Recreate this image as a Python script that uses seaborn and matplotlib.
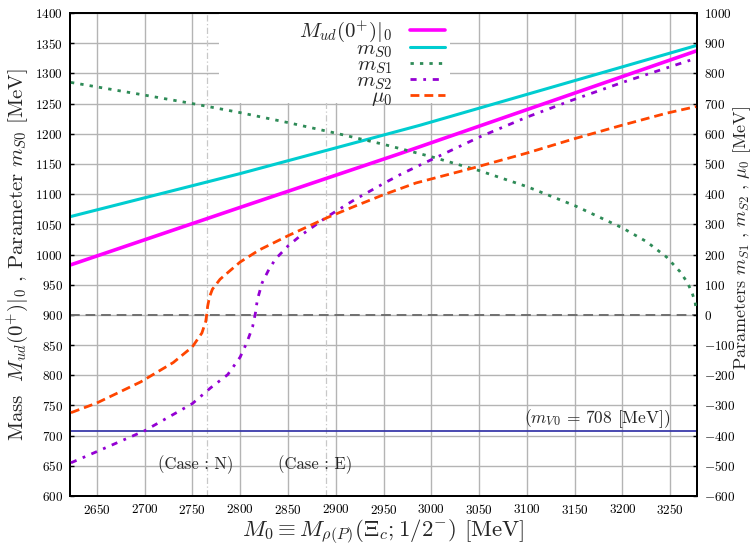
import numpy as np
import pandas as pd
import matplotlib
matplotlib.use("Agg")
import matplotlib.pyplot as plt
from matplotlib.patches import Rectangle
import seaborn as sns

# ---------------- data ----------------
x_Mud = [2623, 2800, 2967, 3277]
M_ud = [983, 1078, 1167, 1337]
x_S0 = [2623, 2800, 2988, 3277]
m_S0 = [1063, 1134, 1214, 1346]

x_S1 = [2623, 2700, 2750, 2800, 2850, 2900, 2950, 3000, 3050, 3100, 3150,
        3200, 3225, 3246, 3260, 3268, 3273, 3276, 3277]
m_S1 = [770, 728, 700, 670, 637, 602, 565, 524, 478, 425, 362,
        288, 243, 192, 144, 107, 72, 42, 22]

x_S2 = [2623, 2650, 2700, 2750, 2769, 2787, 2800, 2807, 2813, 2816, 2818, 2823,
        2830, 2837, 2850, 2863, 2891, 2920, 2950, 2967, 2988, 3051, 3100, 3148,
        3200, 3277]
m_S2 = [-490, -453, -384, -294, -242, -198, -140, -92, -40, 6, 50, 106,
        150, 185, 228, 262, 325, 382, 435, 464, 496, 590, 655, 712,
        770, 850]

x_mu = [2623, 2650, 2696, 2730, 2750, 2760, 2764, 2765, 2766, 2768, 2771, 2779,
        2790, 2800, 2820, 2850, 2891, 2920, 2950, 2984, 3043, 3100, 3148, 3197,
        3246, 3277]
mu_0 = [-324, -292, -222, -158, -106, -60, -22, 0, 28, 60, 85, 118,
        148, 175, 215, 262, 322, 360, 398, 437, 486, 536, 582, 626,
        668, 690]

m_V0 = 708
zero_line_left = 900
case_x = [2765, 2890]
case_labels = ["(Case : N)", "(Case : E)"]
case_text_x = [2753, 2878]
case_text_y = 652

xlim = (2622, 3278)
ylim_left = (600, 1400)
ylim_right = (-600, 1000)
xticks = list(range(2650, 3251, 50))
yticks_left = list(range(600, 1401, 50))
yticks_right = list(range(-600, 1001, 100))

# ---------------- style ----------------
sns.set_style("whitegrid")
plt.rcParams["font.family"] = ["cmr10", "DejaVu Serif"]
plt.rcParams["mathtext.fontset"] = "cm"
plt.rcParams["axes.unicode_minus"] = False
plt.rcParams["axes.formatter.use_mathtext"] = True

fig = plt.figure(figsize=(7.52, 5.46), dpi=100)
ax = fig.add_axes([70/752, 50/546, 627/752, 483/546])
ax2 = ax.twinx()

grid_c = "#b4b4b4"
ax.grid(True, color=grid_c, lw=1.0)
ax2.grid(False)

# vertical case lines
for cx in case_x:
    ax.axvline(cx, color="#c8c8c8", lw=0.9, ls=(0, (5, 2, 1, 2)), zorder=1)

# white background of the legend area
ax.add_patch(Rectangle((0.2376, 0.8137), 0.3685, 0.1863, transform=ax.transAxes,
                       facecolor="white", edgecolor="none", zorder=3))

# horizontal lines
ax.axhline(zero_line_left, color="#707070", lw=1.4, ls=(0, (5, 3)), zorder=2)
ax.axhline(m_V0, color="#3a3aaa", lw=1.3, zorder=2)

sns.lineplot(x=x_Mud, y=M_ud, ax=ax, color="#ff00ff", lw=2.6,
             label=r"$M_{ud}(0^{+})|_0$", zorder=4)
sns.lineplot(x=x_S0, y=m_S0, ax=ax, color="#00cdd0", lw=2.2,
             label=r"$m_{S0}$", zorder=4)

sns.lineplot(x=x_S1, y=m_S1, ax=ax2, color="#2e8b57", lw=2.0,
             linestyle=(0, (1.2, 2.2)), label=r"$m_{S1}$", zorder=4)
sns.lineplot(x=x_S2, y=m_S2, ax=ax2, color="#9400d3", lw=2.0,
             linestyle=(0, (2.2, 2.4, 1.0, 2.4)), label=r"$m_{S2}$", zorder=4)
sns.lineplot(x=x_mu, y=mu_0, ax=ax2, color="#ff4500", lw=2.0,
             linestyle=(0, (3.2, 1.8)), label=r"$\mu_0$", zorder=4)

ax.set_xlim(*xlim)
ax.set_ylim(*ylim_left)
ax2.set_ylim(*ylim_right)
ax.set_xticks(xticks)
ax.set_yticks(yticks_left)
ax2.set_yticks(yticks_right)

for a in (ax, ax2):
    a.tick_params(direction="in", length=3, width=1, labelsize=9.5, colors="black", pad=5)
    for s in a.spines.values():
        s.set_color("black")
        s.set_linewidth(1.4)

ax.set_xlabel(r"$M_0 \equiv M_{\rho(P)}(\Xi_c;1/2^{-})$ [MeV]", fontsize=16.5, labelpad=0)
ax.set_ylabel(r"Mass  $M_{ud}(0^{+})|_0$ , Parameter $m_{S0}$ [MeV]", fontsize=15, labelpad=4)
ax2.set_ylabel(r"Parameters $m_{S1}$ , $m_{S2}$ , $\mu_0$ [MeV]", fontsize=13, labelpad=-3)
ax2.yaxis.label.set_y(0.534)

# texts
for tx, lab in zip(case_text_x, case_labels):
    ax.text(tx, case_text_y, lab, ha="center", va="center", fontsize=12)
ax.text(3250, m_V0 + 2, r"$(m_{V0}$ = 708 [MeV])", ha="right", va="bottom", fontsize=12.5)

# legend
h1, l1 = ax.get_legend_handles_labels()
h2, l2 = ax2.get_legend_handles_labels()
if ax.get_legend() is not None:
    ax.get_legend().remove()
if ax2.get_legend() is not None:
    ax2.get_legend().remove()
leg = ax2.legend(h1 + h2, l1 + l2, loc="upper right", bbox_to_anchor=(0.6087, 1.0),
                 markerfirst=False, fontsize=15, labelspacing=-0.21,
                 handlelength=1.7, handletextpad=0.85, borderpad=0.2,
                 borderaxespad=0.1, frameon=False)
leg.set_zorder(10)

fig.savefig("out.png", dpi=100)
